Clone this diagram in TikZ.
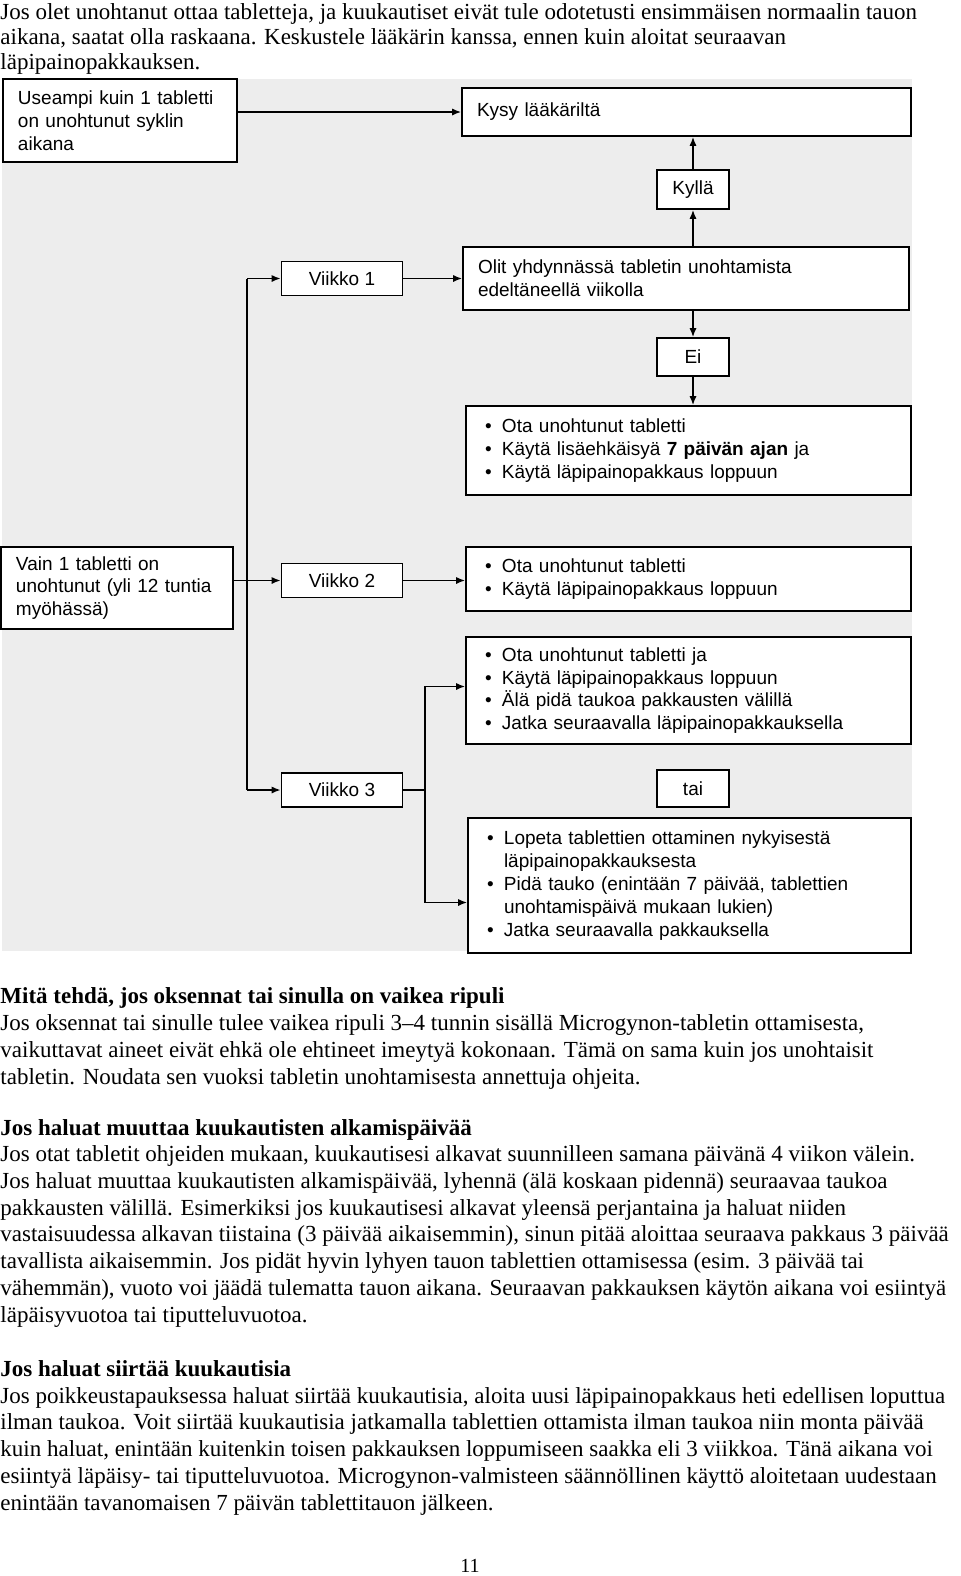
\documentclass[tikz,border=0pt]{standalone}
\usepackage{fontspec}
\setmainfont{Liberation Serif}
\newfontfamily\flowfont{Liberation Sans}
\usetikzlibrary{arrows.meta,positioning,calc}
\newcommand\bl{\hspace*{2pt}\makebox[8.5pt][l]{\textbullet}}
\newcommand\ind{\hspace*{10.5pt}}
\tikzset{
    bg color/.style={fill=black!7},
    box/.style={draw,fill=white,line width=0.9pt,inner xsep=7.5pt,inner ysep=1pt,
        font=\flowfont\fontsize{9.5}{11.4}\selectfont},
    tbox/.style={box,align=left},
    cbox/.style={box,inner sep=0pt,minimum width=36pt},
    arr/.style={-{Latex[length=4.5pt,width=3.6pt]},line width=0.75pt},
    spine/.style={line width=0.75pt},
    para/.style={anchor=base west,inner sep=0pt,align=left},
}
\begin{document}
\begin{tikzpicture}[x=0.5pt,y=-0.5pt]
    \useasboundingbox (0,0) rectangle (960,1576);
    \fill[bg color] (2,79) rectangle (912,951);

    \node[para,font=\fontsize{11.5}{12.5}\selectfont] (intro) at (0,69) {Jos olet unohtanut ottaa tabletteja, ja kuukautiset eivät tule odotetusti ensimmäisen normaalin tauon\\aikana, saatat olla raskaana. Keskustele lääkärin kanssa, ennen kuin aloitat seuraavan\\läpipainopakkauksen.};

    % flowchart
    \node[tbox,text width=102pt,minimum height=41.5pt] (useampi) at (120,120.5) {Useampi kuin 1 tabletti\\on unohtunut syklin\\aikana};
    \node[tbox,text width=209.5pt,minimum height=24pt] (kysy) at (686.5,112) {Kysy lääkäriltä};
    \node[cbox,minimum height=19.5pt] (kylla) at (693,189.5) {Kyllä};
    \node[tbox,text width=208pt,minimum height=31.5pt] (olit) at (686,278.5) {Olit yhdynnässä tabletin unohtamista\\edeltäneellä viikolla};
    \foreach \n/\y in {1/278.5,2/580.5,3/790}
        \node[box,inner sep=0pt,minimum width=60.5pt,minimum height=17pt] (viikko\n) at (342,\y) {Viikko \n};
    \node[cbox,minimum height=19pt] (ei) at (693,357) {Ei};
    \node[tbox,text width=207.5pt,minimum height=44.5pt] (b1) at (688.5,450.5) {\bl Ota unohtunut tabletti\\\bl Käytä lisäehkäisyä \textbf{7 päivän ajan} ja\\\bl Käytä läpipainopakkaus loppuun};
    \node[tbox,text width=101pt,minimum height=41pt] (vain) at (117,588) {Vain 1 tabletti on\\unohtunut (yli 12 tuntia\\myöhässä)};
    \node[tbox,text width=207.5pt,minimum height=32pt] (b2) at (688.5,579) {\bl Ota unohtunut tabletti\\\bl Käytä läpipainopakkaus loppuun};
    \node[tbox,text width=207.5pt,minimum height=53.5pt] (b3) at (688.5,690.5) {\bl Ota unohtunut tabletti ja\\\bl Käytä läpipainopakkaus loppuun\\\bl Älä pidä taukoa pakkausten välillä\\\bl Jatka seuraavalla läpipainopakkauksella};
    \node[cbox,minimum height=18.5pt] (tai) at (693,788.5) {tai};
    \node[tbox,text width=206.5pt,minimum height=67.5pt] (b4) at (689.5,885.5) {\bl Lopeta tablettien ottaminen nykyisestä\\\ind läpipainopakkauksesta\\\bl Pidä tauko (enintään 7 päivää, tablettien\\\ind unohtamispäivä mukaan lukien)\\\bl Jatka seuraavalla pakkauksella};

    \coordinate (sp1) at (247,278.5);
    \coordinate (sp3) at (247,790);
    \coordinate (fork) at (425,790);

    \draw[arr] (useampi.east |- kysy.west) -- (kysy.west);
    \draw[arr] (kylla.south |- olit.north) -- (kylla.south);
    \draw[arr] (kylla.north) -- (kylla.north |- kysy.south);
    \draw[arr] (ei.north |- olit.south) -- (ei.north);
    \draw[arr] (ei.south) -- (ei.south |- b1.north);
    \draw[spine] (sp1) -- (sp3);
    \draw[arr] (sp1) -- (viikko1);
    \draw[arr] (sp3) -- (viikko3);
    \draw[arr] (viikko1) -- (olit);
    \draw[arr] (vain.east |- viikko2.west) -- (viikko2.west);
    \draw[arr] (viikko2.east) -- (viikko2.east -| b2.west);
    \draw[spine] (viikko3.east) -- (fork);
    \draw[arr] (fork) |- ([yshift=2pt]b3.west);
    \draw[arr] (fork) |- ([yshift=-8.5pt]b4.west);

    % text below
    \node[para,font=\fontsize{11.5}{13.35}\selectfont] (oksennus) at (0,1084) {\textbf{Mitä tehdä, jos oksennat tai sinulla on vaikea ripuli}\\Jos oksennat tai sinulle tulee vaikea ripuli 3–4 tunnin sisällä Microgynon-tabletin ottamisesta,\\vaikuttavat aineet eivät ehkä ole ehtineet imeytyä kokonaan. Tämä on sama kuin jos unohtaisit\\tabletin. Noudata sen vuoksi tabletin unohtamisesta annettuja ohjeita.};
    \node[para,font=\fontsize{11.5}{13.35}\selectfont] (muutto) at (0,1322) {\textbf{Jos haluat muuttaa kuukautisten alkamispäivää}\\Jos otat tabletit ohjeiden mukaan, kuukautisesi alkavat suunnilleen samana päivänä 4 viikon välein.\\Jos haluat muuttaa kuukautisten alkamispäivää, lyhennä (älä koskaan pidennä) seuraavaa taukoa\\pakkausten välillä. Esimerkiksi jos kuukautisesi alkavat yleensä perjantaina ja haluat niiden\\vastaisuudessa alkavan tiistaina (3 päivää aikaisemmin), sinun pitää aloittaa seuraava pakkaus 3 päivää\\tavallista aikaisemmin. Jos pidät hyvin lyhyen tauon tablettien ottamisessa (esim. 3 päivää tai\\vähemmän), vuoto voi jäädä tulematta tauon aikana. Seuraavan pakkauksen käytön aikana voi esiintyä\\läpäisyvuotoa tai tiputteluvuotoa.};
    \node[para,font=\fontsize{11.5}{13.35}\selectfont] (siirto) at (0,1510) {\textbf{Jos haluat siirtää kuukautisia}\\Jos poikkeustapauksessa haluat siirtää kuukautisia, aloita uusi läpipainopakkaus heti edellisen loputtua\\ilman taukoa. Voit siirtää kuukautisia jatkamalla tablettien ottamista ilman taukoa niin monta päivää\\kuin haluat, enintään kuitenkin toisen pakkauksen loppumiseen saakka eli 3 viikkoa. Tänä aikana voi\\esiintyä läpäisy- tai tiputteluvuotoa. Microgynon-valmisteen säännöllinen käyttö aloitetaan uudestaan\\enintään tavanomaisen 7 päivän tablettitauon jälkeen.};
    \node[anchor=base,inner sep=0pt,font=\fontsize{10}{12}\selectfont] (sivu) at (470,1572) {11};
\end{tikzpicture}
\end{document}
